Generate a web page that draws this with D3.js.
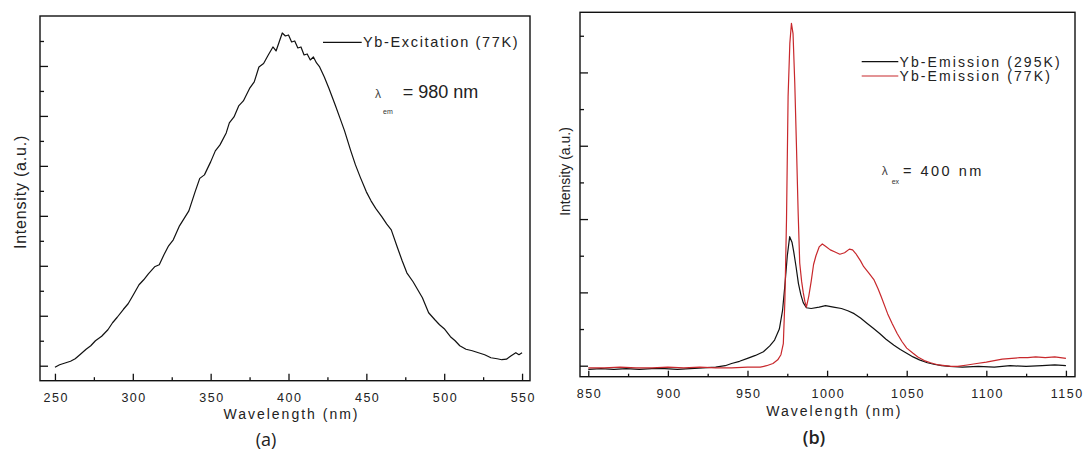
<!DOCTYPE html>
<html>
<head>
<meta charset="utf-8">
<script src="https://cdn.jsdelivr.net/npm/d3@7"></script>
<style>
  body { margin: 0; background: #fff; }
  svg { display: block; font-family: "Liberation Sans", Arial, sans-serif; }
</style>
</head>
<body>
<div id="container"></div>
<script>
/**
 * DATA (intensity in arbitrary units)
 * */
// (a) Yb excitation, 77K, λem = 980 nm
const exWl = [250, 253, 256, 260, 263, 266, 270, 273, 276, 280, 284, 287, 290, 294, 297, 300, 304, 307, 310, 314, 317, 320, 323, 326, 330,
  333, 336, 340, 343, 346, 350, 353, 356, 360, 362, 365, 368, 371, 375, 378, 381, 384, 387, 390, 392, 394, 396, 398, 400, 402,
  404, 406, 408, 410, 412, 414, 416, 418, 420, 423, 426, 430, 433, 436, 440, 443, 446, 450, 453, 456, 460, 463, 466, 470, 473,
  476, 480, 483, 486, 490, 494, 497, 500, 504, 507, 510, 514, 518, 522, 526, 530, 534, 537, 540, 543, 546, 548, 550];
const exInt = [-0.03, 0.02, 0.05, 0.09, 0.14, 0.22, 0.33, 0.40, 0.50, 0.59, 0.72, 0.86, 0.97, 1.13, 1.24, 1.40, 1.62, 1.72, 1.84, 1.98, 2.02, 2.22, 2.40, 2.52, 2.80,
  2.95, 3.10, 3.48, 3.75, 3.82, 4.08, 4.30, 4.42, 4.66, 4.86, 4.98, 5.20, 5.30, 5.55, 5.68, 5.98, 6.05, 6.22, 6.38, 6.30, 6.48, 6.66, 6.60, 6.62, 6.48,
  6.50, 6.36, 6.38, 6.22, 6.24, 6.12, 6.18, 6.06, 5.98, 5.78, 5.55, 5.22, 4.96, 4.70, 4.30, 4.02, 3.78, 3.48, 3.30, 3.15, 2.98, 2.84, 2.72, 2.36, 2.10,
  1.86, 1.68, 1.52, 1.36, 1.06, 0.92, 0.82, 0.74, 0.58, 0.50, 0.40, 0.33, 0.30, 0.26, 0.22, 0.16, 0.14, 0.12, 0.13, 0.20, 0.26, 0.22, 0.26];

// (b) Yb emission, λex = 400 nm
const em295Wl = [850, 858, 866, 874, 882, 890, 898, 906, 914, 922, 930, 936, 940, 945, 950, 955, 960, 964, 967, 970, 972, 973.5, 975, 976.5,
  978, 979, 980.5, 982, 983.5, 985, 987, 990, 995, 999, 1004, 1009, 1013, 1017, 1021, 1025, 1029, 1033, 1037, 1042, 1046, 1050,
  1054, 1058, 1063, 1067, 1072, 1077, 1085, 1095, 1105, 1115, 1125, 1135, 1143, 1150];
const em295Int = [-0.05, -0.04, -0.05, -0.04, -0.05, -0.04, -0.04, -0.05, -0.04, -0.03, -0.02, 0.00, 0.03, 0.06, 0.10, 0.14, 0.19, 0.27, 0.35, 0.50, 0.75, 1.10, 1.50, 1.76,
  1.68, 1.56, 1.35, 1.12, 0.97, 0.86, 0.79, 0.78, 0.80, 0.82, 0.80, 0.78, 0.75, 0.71, 0.65, 0.58, 0.51, 0.44, 0.36, 0.28, 0.22, 0.17,
  0.12, 0.08, 0.04, 0.02, 0.00, -0.01, -0.02, -0.01, -0.02, 0.00, -0.01, 0.00, 0.01, 0.00];

const em77Wl = [850, 860, 870, 880, 890, 900, 910, 920, 930, 940, 950, 958, 962, 966, 969, 971, 972.5, 973.5, 974.5, 975.5, 976.6, 977.6,
  978.6, 979.7, 980.7, 981.8, 982.8, 984, 985, 986, 987, 988.5, 990, 991.5, 993, 995, 997, 999, 1002, 1005, 1008, 1011, 1014, 1016,
  1018, 1021, 1023, 1026, 1029.5, 1032, 1034, 1038, 1041, 1044, 1047, 1050, 1054, 1057, 1061, 1065, 1070, 1074, 1078, 1082, 1088,
  1094, 1100, 1105, 1110, 1116, 1121, 1126, 1131, 1137, 1143, 1150];
const em77Int = [-0.03, -0.03, -0.02, -0.03, -0.03, -0.02, -0.03, -0.02, -0.03, -0.03, -0.02, -0.02, 0.00, 0.03, 0.08, 0.15, 0.30, 0.90, 1.99, 3.67, 4.40, 4.67,
  4.53, 3.85, 3.04, 2.10, 1.40, 1.15, 1.00, 0.88, 0.80, 0.95, 1.15, 1.38, 1.50, 1.62, 1.66, 1.63, 1.58, 1.55, 1.52, 1.54, 1.59, 1.58,
  1.53, 1.43, 1.35, 1.27, 1.17, 1.05, 0.94, 0.71, 0.57, 0.44, 0.33, 0.24, 0.17, 0.12, 0.07, 0.04, 0.01, 0.00, -0.01, -0.01, 0.01,
  0.03, 0.05, 0.07, 0.09, 0.10, 0.11, 0.11, 0.12, 0.11, 0.12, 0.10];

// ticks
const aMajorX = [250, 300, 350, 400, 450, 500, 550];
const aMinorX = [275, 325, 375, 425, 475, 525];
const aMajorY = [0, 1, 2, 3, 4, 5, 6];
const aMinorY = [0.5, 1.5, 2.5, 3.5, 4.5, 5.5, 6.5];
const bMajorX = [850, 900, 950, 1000, 1050, 1100, 1150];
const bMinorX = [875, 925, 975, 1025, 1075, 1125];
const bMajorY = [0, 1, 2, 3, 4];
const bMinorY = [0.5, 1.5, 2.5, 3.5, 4.5];

/**
 * CONSTANTS
 * */
const width = 1083, height = 454;
const RED = '#c8282c';

const svg = d3.select('#container')
  .append('svg')
  .attr('width', width)
  .attr('height', height);

// panel (a)
const xA = d3.scaleLinear().domain([240.4, 555.1]).range([40, 530]);
const yA = d3.scaleLinear().domain([-0.3, 7.0]).range([380.7, 16]);
// panel (b)
const xB = d3.scaleLinear().domain([844.8, 1155.7]).range([580, 1075]);
const yB = d3.scaleLinear().domain([-0.15, 4.82]).range([376.7, 12.3]);

function frame(x, y, majX, minX, majY, minY, tickX, tickY) {
  const [x0, x1] = x.range(), [y0, y1] = y.range();
  const g = svg.append('g');

  // x axis ticks pointing inward
  const bottom = g.append('g').attr('transform', `translate(0,${y0})`);
  bottom.call(d3.axisBottom(x).tickValues(majX).tickFormat(d3.format('d'))
    .tickSizeInner(-tickX).tickSizeOuter(0).tickPadding(12.4));
  bottom.append('g').call(d3.axisBottom(x).tickValues(minX).tickSizeInner(-tickX / 2).tickSizeOuter(0).tickFormat(''));
  bottom.selectAll('.domain').remove();
  bottom.selectAll('text')
    .attr('fill', '#222')
    .style('font-size', '12.5px')
    .style('letter-spacing', '1.5px')
    .attr('dx', '0.75px');

  const left = g.append('g').attr('transform', `translate(${x0},0)`);
  left.call(d3.axisLeft(y).tickValues(majY).tickSizeInner(-tickY).tickSizeOuter(0).tickFormat(''));
  left.append('g').call(d3.axisLeft(y).tickValues(minY).tickSizeInner(-tickY / 2).tickSizeOuter(0).tickFormat(''));
  left.selectAll('.domain').remove();
  g.selectAll('.tick line').attr('stroke', '#111').attr('stroke-width', 1.3);

  g.append('rect')
    .attr('x', x0).attr('y', y1)
    .attr('width', x1 - x0).attr('height', y0 - y1)
    .attr('fill', 'none').attr('stroke', '#111').attr('stroke-width', 1.4);
}

function curve(x, y, wl, vals, color) {
  const line = d3.line().x(d => x(d[0])).y(d => y(d[1]));
  svg.append('path')
    .datum(d3.zip(wl, vals))
    .attr('d', line)
    .attr('fill', 'none')
    .attr('stroke', color)
    .attr('stroke-width', 1.2)
    .attr('stroke-linejoin', 'round');
}

function label(x, y, txt, size, opts = {}) {
  const t = svg.append('text')
    .attr('x', x).attr('y', y)
    .attr('fill', opts.fill || '#222')
    .style('font-size', size + 'px')
    .text(txt);
  if (opts.anchor) t.attr('text-anchor', opts.anchor);
  if (opts.ls) t.style('letter-spacing', opts.ls + 'px');
  if (opts.rotate) t.attr('transform', `rotate(-90,${x},${y})`);
  if (opts.family) t.style('font-family', opts.family);
  if (opts.weight) t.style('font-weight', opts.weight);
  return t;
}

// ---- panel (a)
frame(xA, yA, aMajorX, aMinorX, aMajorY, aMinorY, 7, 8);
curve(xA, yA, exWl, exInt, '#111');

svg.append('line').attr('x1', 323).attr('x2', 361.7).attr('y1', 42.3).attr('y2', 42.3)
  .attr('stroke', '#111').attr('stroke-width', 1.2);
label(363, 47, 'Yb-Excitation (77K)', 14.5, { ls: 1.65 });

label(375, 98.3, 'λ', 12, { fill: '#444' });
label(383, 114, 'em', 7, { fill: '#333' });
label(402.7, 98.3, '= 980 nm', 18);

label(291.5, 419, 'Wavelength (nm)', 14, { anchor: 'middle', ls: 2 });
label(25.5, 192, 'Intensity (a.u.)', 16, { anchor: 'middle', ls: 0.8, rotate: true });
label(266, 446, '(a)', 18, { anchor: 'middle', family: '"Open Sans", sans-serif' });

// ---- panel (b)
frame(xB, yB, bMajorX, bMinorX, bMajorY, bMinorY, 6, 8);
curve(xB, yB, em295Wl, em295Int, '#111');
curve(xB, yB, em77Wl, em77Int, RED);

svg.append('line').attr('x1', 861.7).attr('x2', 898.3).attr('y1', 61.7).attr('y2', 61.7)
  .attr('stroke', '#111').attr('stroke-width', 1.2);
svg.append('line').attr('x1', 861.7).attr('x2', 898.3).attr('y1', 76).attr('y2', 76)
  .attr('stroke', RED).attr('stroke-width', 1.2);
label(899.5, 66.7, 'Yb-Emission (295K)', 14, { ls: 2.1 });
label(899.5, 81, 'Yb-Emission (77K)', 14, { ls: 2.1 });

label(881.7, 175, 'λ', 12, { fill: '#444' });
label(891.7, 183.5, 'ex', 7, { fill: '#333' });
label(903, 176, '= 400 nm', 14.5, { ls: 2.5 });

label(834.3, 415.7, 'Wavelength (nm)', 14, { anchor: 'middle', ls: 2 });
label(570, 171.5, 'Intensity (a.u.)', 14, { anchor: 'middle', rotate: true });
label(814, 444, '(b)', 18, { anchor: 'middle', family: '"Open Sans", sans-serif', weight: 600 });
</script>
</body>
</html>
